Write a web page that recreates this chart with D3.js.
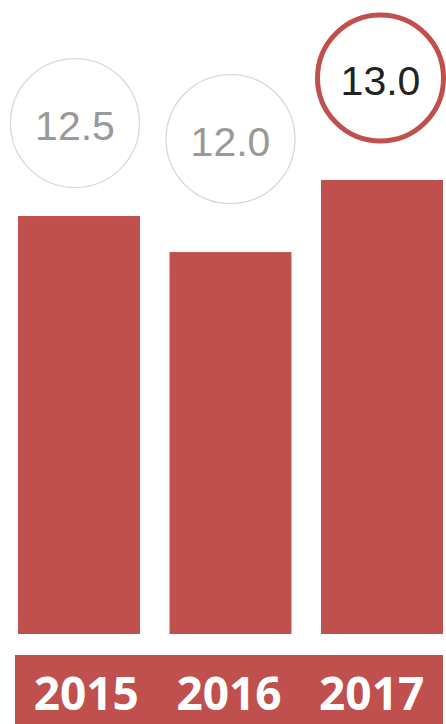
<!DOCTYPE html>
<html><head><meta charset="utf-8">
<script src="https://cdn.jsdelivr.net/npm/d3@7"></script>
<style>body{margin:0;background:#fff}svg{display:block}</style>
</head><body>
<script>
const years = ["2015", "2016", "2017"];
const values = [12.5, 12.0, 13.0];
const valueLabels = ["12.5", "12.0", "13.0"];
const highlight = [false, false, true];

const W = 446, H = 724;
const red = "#C0504D";
const svg = d3.select("body").append("svg").attr("width", W).attr("height", H);

const x = d3.scaleBand().domain(years).range([18, 443]).paddingInner(0.195).paddingOuter(0);
const y = d3.scaleLinear().domain([6.7, 13]).range([634, 180]);

svg.selectAll("rect.bar").data(years).join("rect").attr("class", "bar")
  .attr("x", d => x(d)).attr("width", x.bandwidth())
  .attr("y", (d, i) => y(values[i])).attr("height", (d, i) => y.range()[0] - y(values[i]))
  .attr("fill", red);

// circle bubbles (placement above bars)
const circleDx = [-4, 0, -1.5];
const circleDy = [-93, -113, -102];
svg.selectAll("g.bubble").data(years).join("g").attr("class", "bubble")
  .attr("transform", (d, i) => `translate(${x(d) + x.bandwidth() / 2 + circleDx[i]},${y(values[i]) + circleDy[i]})`)
  .each(function (d, i) {
    const g = d3.select(this);
    g.append("circle").attr("r", highlight[i] ? 63 : 64.5)
      .attr("fill", "#fff")
      .attr("stroke", highlight[i] ? red : "#d9d9d9")
      .attr("stroke-width", highlight[i] ? 5 : 1.3);
    g.append("text").attr("text-anchor", "middle").attr("y", 17)
      .attr("font-family", "Liberation Sans, Arial, sans-serif").attr("font-size", 41)
      .attr("fill", highlight[i] ? "#222" : "#999").text(valueLabels[i]);
  });

// bottom band with year labels
const band = d3.scaleBand().domain(years).range([15, 443]);
svg.append("rect").attr("x", 15).attr("y", 655).attr("width", 428).attr("height", 69).attr("fill", red);
svg.selectAll("text.year").data(years).join("text").attr("class", "year")
  .attr("x", d => band(d) + band.bandwidth() / 2).attr("y", 710)
  .attr("text-anchor", "middle").attr("fill", "#fff")
  .attr("font-family", "Open Sans, Liberation Sans, sans-serif").attr("font-weight", "bold")
  .attr("font-size", 46).text(d => d);
</script>
</body></html>
